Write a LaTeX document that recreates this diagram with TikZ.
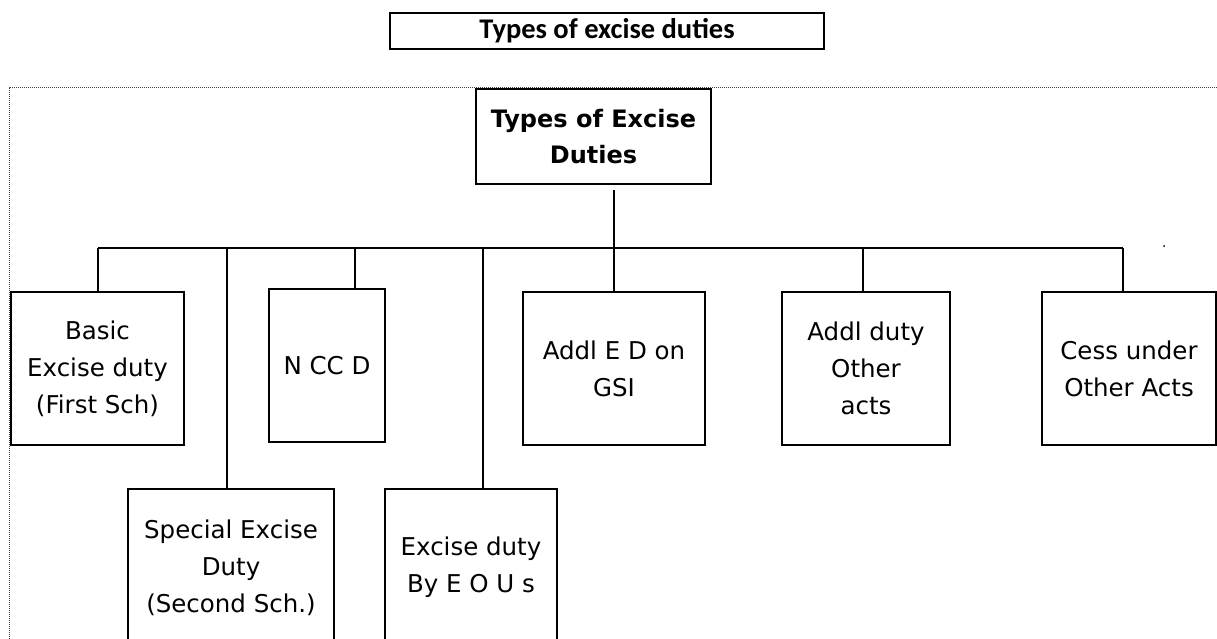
\documentclass[tikz,border=0pt]{standalone}
\usepackage{fontspec}
\setmainfont{DejaVu Sans}
\newfontfamily\titlefont{Carlito}
\begin{document}
\begin{tikzpicture}[x=1pt,y=-1pt,
  box/.style={draw=black, line width=1.3pt, rectangle, inner sep=0pt,
    align=center, font=\fontsize{24.5}{37}\selectfont},
  link/.style={draw=black, line width=1.2pt},
  frame/.style={draw=black!75, line width=1pt, densely dotted}]
\useasboundingbox (0,0) rectangle (1217,639);
\clip (0,0) rectangle (1217,639);

% heading
\node[box, line width=1.5pt, minimum width=434pt, minimum height=36pt,
  font=\titlefont\fontsize{28.5}{30}\selectfont\bfseries] (title) at (607,31) {Types of excise duties};

% dotted frame around the chart
\draw[frame] (9,639) -- (9,88) -- (1217,88);

% root
\node[box, minimum width=235pt, minimum height=95pt,
  font=\fontsize{24}{36}\selectfont\bfseries] (root) at (593.5,136.5) {Types of Excise\\Duties};

% upper row
\node[box, minimum width=173pt, minimum height=153pt] (basic) at (97.5,368.5) {Basic\\Excise duty\\(First Sch)};
\node[box, minimum width=116pt, minimum height=153pt] (nccd) at (327,365.5) {N CC D};
\node[box, minimum width=182pt, minimum height=153pt] (gsi) at (614,368.5) {Addl E D on\\GSI};
\node[box, minimum width=168pt, minimum height=153pt] (addl) at (866,368.5) {Addl duty\\Other\\acts};
\node[box, minimum width=174pt, minimum height=153pt] (cess) at (1129,368.5) {Cess under\\Other Acts};

% lower row
\node[box, minimum width=206pt, minimum height=157pt] (spec) at (231,567.5) {Special Excise\\Duty\\(Second Sch.)};
\node[box, minimum width=172pt, minimum height=157pt] (eou) at (471,567.5) {Excise duty\\By E O U s};

% bus line
\coordinate (busL) at (98,248);
\coordinate (busR) at (1123,248);
\draw[link] (busL) -- (busR);

% drops
\draw[link] (gsi.north) -- ([yshift=-5pt]gsi.north |- root.south);
\draw[link] (busL) -- (busL |- basic.north);
\draw[link] (spec.north) ++(-4,0) coordinate (specT) -- (specT |- busL);
\draw[link] (nccd.north) ++(28,0) coordinate (nccdT) -- (nccdT |- busL);
\draw[link] (eou.north) ++(12,0) coordinate (eouT) -- (eouT |- busL);
\draw[link] (addl.north) ++(-3,0) coordinate (addlT) -- (addlT |- busL);
\draw[link] (busR) -- (busR |- cess.north);

% stray dot
\fill (1164,246) circle (1pt);
\end{tikzpicture}
\end{document}
